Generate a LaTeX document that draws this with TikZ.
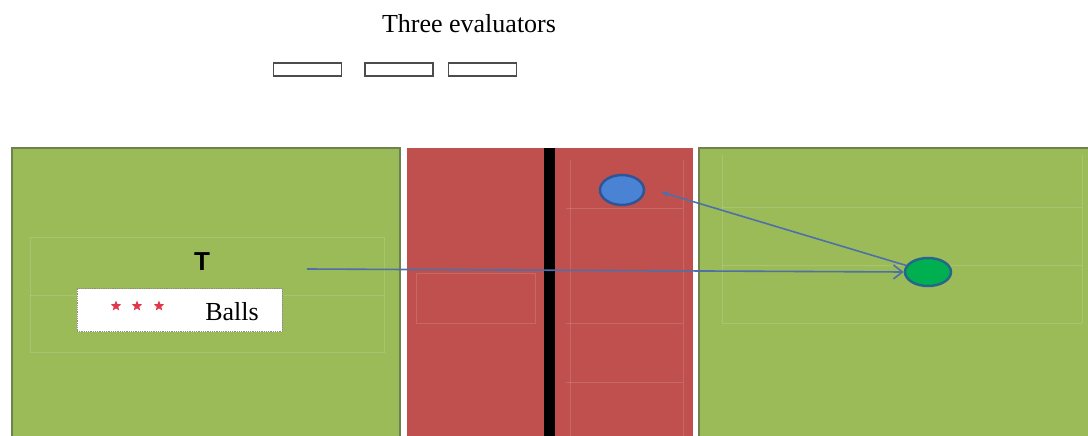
\documentclass[tikz,border=0pt]{standalone}
\usepackage{fontspec}
\setmainfont{Liberation Serif}
\newfontfamily\tsans{Liberation Sans}
\usetikzlibrary{arrows.meta,shapes.geometric}
\definecolor{fieldgreen}{HTML}{9BBB59}
\definecolor{fieldedge}{HTML}{6E8250}
\definecolor{trackred}{HTML}{C0504D}
\definecolor{linkblue}{HTML}{4F6FA8}
\definecolor{ballblue}{HTML}{4A82D4}
\definecolor{balledge}{HTML}{2F5597}
\definecolor{ballgreen}{HTML}{00B050}
\definecolor{starred}{HTML}{E0384A}
\tikzset{
  field/.style={fill=fieldgreen, draw=fieldedge, line width=1.5pt},
  track/.style={fill=trackred, draw=none},
  faint/.style={draw=white, draw opacity=0.14, line width=0.8pt},
  evalbox/.style={draw=black!70, fill=white, line width=1.6pt, minimum width=68pt, minimum height=13pt, inner sep=0pt},
  link/.style={draw=linkblue, line width=1.6pt},
  ballstar/.style={star, star points=5, star point ratio=2.3, fill=starred, draw=none, minimum size=11pt, inner sep=0pt},
}
\begin{document}
\begin{tikzpicture}[x=1pt,y=-1pt]
\useasboundingbox (0,0) rectangle (1088,436);
\fill[white] (0,0) rectangle (1088,436);
% title and evaluators
\node[font=\fontsize{26}{30}\selectfont, anchor=center] (title) at (469,24) {Three evaluators};
\node[evalbox] (e1) at (307.5,69.5) {};
\node[evalbox] (e2) at (399,69.5) {};
\node[evalbox] (e3) at (482.5,69.5) {};
% left field
\path[field] (12,148) rectangle (400,440);
\draw[faint] (30,237) rectangle (384,352);
\draw[faint] (30,295) -- (384,295);
% track
\path[track] (407,148) rectangle (693,440);
\draw[faint] (416,273) rectangle (535,323);
\draw[faint] (570,160) -- (570,440);
\draw[faint] (683,160) -- (683,440);
\draw[faint] (566,208) -- (683,208);
\draw[faint] (566,323) -- (683,323);
\draw[faint] (566,382) -- (683,382);
\fill[black] (544,148) rectangle (555,440);
% right field
\path[field] (699,148) rectangle (1092,440);
\draw[faint] (722,155) -- (722,323);
\draw[faint] (1082,155) -- (1082,323);
\draw[faint] (722,207) -- (1082,207);
\draw[faint] (722,265) -- (1082,265);
\draw[faint] (722,323) -- (1082,323);
% labels
\node[font=\tsans\bfseries\fontsize{26}{30}\selectfont] (tlabel) at (202,262) {T};
\node[draw=black!45, densely dotted, fill=white, line width=0.8pt, minimum width=205pt, minimum height=43pt, inner sep=0pt] (ballsbox) at (179.5,310) {};
\node[ballstar] (s1) at (116,306) {};
\node[ballstar] (s2) at (137,306) {};
\node[ballstar] (s3) at (159,306) {};
\node[font=\fontsize{26}{30}\selectfont] (balls) at (232,312) {Balls};
% players
\node[ellipse, fill=ballblue, draw=balledge, line width=2.5pt, minimum width=44pt, minimum height=30pt, inner sep=0pt] (blueball) at (622,190) {};
\node[ellipse, fill=ballgreen, draw=balledge!80!ballgreen, line width=2.5pt, minimum width=46pt, minimum height=28pt, inner sep=0pt] (greenball) at (928,272) {};
% connectors
\coordinate (tstart) at (307,269);
\coordinate (btip) at (661,192);
\draw[link, -{Straight Barb[length=9pt,width=14pt]}] (tstart) -- (greenball.west);
\draw[link, -{Latex[length=7pt,width=6pt]}] (greenball) -- (btip);
\end{tikzpicture}
\end{document}
